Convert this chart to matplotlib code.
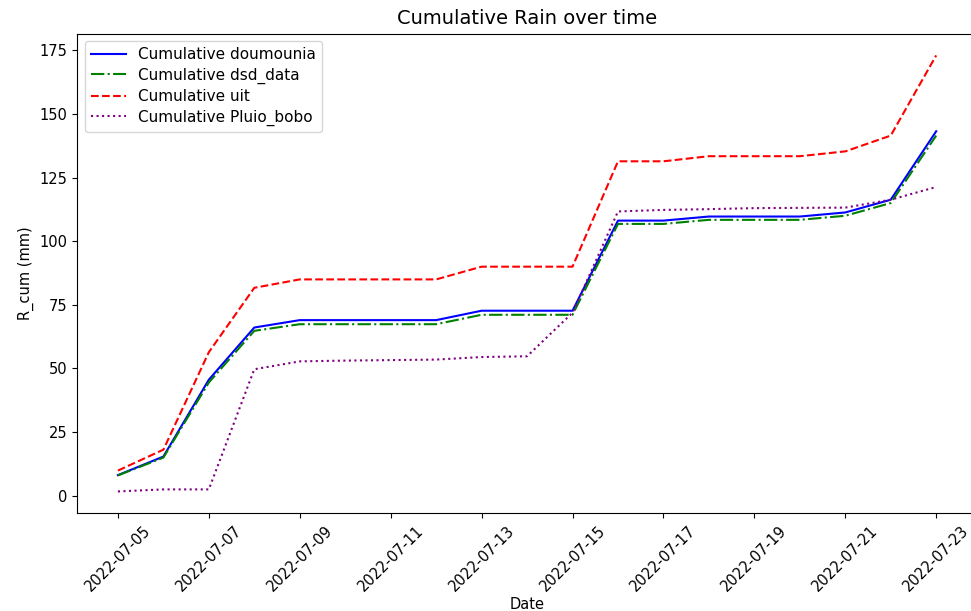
import matplotlib
matplotlib.use("Agg")
import matplotlib.pyplot as plt
import matplotlib.dates as mdates
import pandas as pd

dates = pd.date_range("2022-07-05", "2022-07-23", freq="D")

cum_doumounia = [8.1, 15.4, 45.6, 66.1, 69.0, 69.0, 69.0, 69.0, 72.7, 72.7, 72.7,
                 108.1, 108.1, 109.7, 109.7, 109.7, 111.3, 116.3, 143.2]
cum_dsd = [8.0, 15.0, 44.5, 64.8, 67.4, 67.4, 67.4, 67.4, 71.1, 71.1, 71.1,
           106.8, 106.8, 108.4, 108.4, 108.4, 110.0, 115.0, 141.5]
cum_uit = [9.9, 18.1, 56.4, 81.7, 85.0, 85.0, 85.0, 85.0, 90.0, 90.0, 90.0,
           131.4, 131.4, 133.4, 133.4, 133.4, 135.3, 141.5, 173.0]
cum_pluio = [1.7, 2.5, 2.5, 49.7, 52.8, 53.1, 53.3, 53.5, 54.5, 54.8, 71.9,
             111.7, 112.3, 112.6, 113.0, 113.1, 113.2, 116.3, 121.3]

plt.rcParams["font.size"] = 10.5

fig = plt.figure(figsize=(9.71, 6.11), dpi=100)
ax = fig.add_axes([0.0793, 0.160, 0.927, 0.785])

ax.plot(dates, cum_doumounia, "b-", label="Cumulative doumounia")
ax.plot(dates, cum_dsd, "g-.", label="Cumulative dsd_data")
ax.plot(dates, cum_uit, "r--", label="Cumulative uit")
ax.plot(dates, cum_pluio, color="purple", linestyle=":", label="Cumulative Pluio_bobo")

# one tick every second day, starting from the first observation
ax.set_xticks(dates[::2])
ax.xaxis.set_major_formatter(mdates.DateFormatter("%Y-%m-%d"))
plt.setp(ax.get_xticklabels(), rotation=45)

ax.set_title("Cumulative Rain over time", fontsize=14, pad=7)
ax.set_xlabel("Date", labelpad=2)
ax.set_ylabel("R_cum (mm)")
ax.legend(loc="upper left", fontsize=11, labelspacing=0.35, handlelength=2.3)

fig.savefig("out.png", dpi=100)
